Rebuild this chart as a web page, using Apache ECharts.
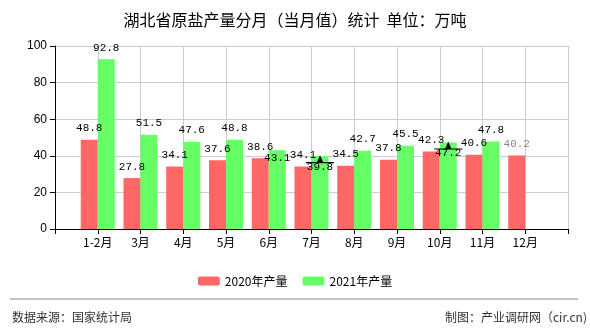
<!DOCTYPE html>
<html>
<head>
<meta charset="utf-8">
<script src="https://cdn.jsdelivr.net/npm/echarts@6/dist/echarts.min.js"></script>
<style>html,body{margin:0;padding:0;background:#fff;}#c{width:590px;height:330px;}</style>
</head>
<body>
<div id="c"></div>
<script>
var months = ['1-2月','3月','4月','5月','6月','7月','8月','9月','10月','11月','12月'];
var values2020 = [48.8, 27.8, 34.1, 37.6, 38.6, 34.1, 34.5, 37.8, 42.3, 40.6, 40.2];
var values2021 = [92.8, 51.5, 47.6, 48.8, 43.1, 39.8, 42.7, 45.5, 47.2, 47.8, null];
var yTicks = [0, 20, 40, 60, 80, 100];
var seriesNames = ['2020年产量', '2021年产量'];
var markerMonths = ['7月', '10月'];
var title = '湖北省原盐产量分月（当月值）统计  单位：万吨';
var sourceText = '数据来源：国家统计局';
var creditText = '制图：产业调研网（cir.cn)';

// padded category axis (empty slots at both ends, boundaryGap false)
var cats = [''].concat(months, ['']);
var labelFont = 'Liberation Mono';
function build(vals, idxInside, gray) {
  var out = [null];
  vals.forEach(function (v, i) {
    if (v === null) { out.push(null); return; }
    var item = { value: v };
    var m = months[i];
    if (idxInside && idxInside[m] !== undefined) {
      item.label = { position: 'insideTop', distance: idxInside[m] };
    }
    if (gray && gray.indexOf(m) >= 0) {
      item.label = Object.assign(item.label || {}, { color: '#888' });
    }
    out.push(item);
  });
  out.push(null);
  return out;
}
var d2020 = build(values2020, null, ['12月']);
var d2021 = build(values2021, { '6月': 2, '7月': 5, '10月': 5 }, null);

var markers = markerMonths.map(function (m) {
  var i = months.indexOf(m);
  return { coord: [m, values2021[i]] };
});

var chart = echarts.init(document.getElementById('c'), null, { renderer: 'canvas' });
var lbl = { show: true, position: 'top', distance: 6, color: '#000', fontSize: 11, fontFamily: labelFont };
chart.setOption({
  animation: false,
  backgroundColor: '#fff',
  title: {
    text: title, left: 'center', top: 7,
    textStyle: { fontSize: 16, fontWeight: 'normal', color: '#000', fontFamily: 'Noto Sans CJK SC' }
  },
  legend: {
    data: seriesNames, left: 'center', top: 270,
    itemWidth: 22, itemHeight: 9, itemGap: 15,
    textStyle: { fontSize: 12, color: '#000', fontFamily: 'Noto Sans CJK SC' }
  },
  grid: { left: 55, right: 22, top: 46, bottom: 101, containLabel: false },
  xAxis: {
    type: 'category', data: cats, boundaryGap: false,
    axisLine: { lineStyle: { color: '#000' } },
    axisTick: { show: true, length: 5, lineStyle: { color: '#000' }, interval: 0 },
    axisLabel: { interval: 0, color: '#000', fontSize: 12, fontFamily: 'Noto Sans CJK SC', margin: 7 },
    splitLine: { show: true, lineStyle: { color: '#ccc' } }
  },
  yAxis: {
    type: 'value', min: yTicks[0], max: yTicks[yTicks.length - 1], interval: yTicks[1] - yTicks[0],
    axisLine: { show: true, lineStyle: { color: '#000' } },
    axisTick: { show: true, length: 5, lineStyle: { color: '#000' } },
    axisLabel: { color: '#000', fontSize: 12, fontFamily: 'Liberation Sans', margin: 8 },
    splitLine: { show: true, lineStyle: { color: '#ccc' } }
  },
  series: [
    {
      name: seriesNames[0], type: 'bar', data: d2020, barWidth: 17, barGap: '0%',
      itemStyle: { color: '#ff6666' }, label: lbl
    },
    {
      name: seriesNames[1], type: 'bar', data: d2021, barWidth: 17, barGap: '0%',
      itemStyle: { color: '#66ff66' }, label: lbl,
      markPoint: {
        symbol: 'path://M0,10 L28,10 L28,11 L0,11 Z M11,10 L14,4 L17,10 Z',
        symbolSize: [28, 8], symbolKeepAspect: false, symbolOffset: [0, 3],
        itemStyle: { color: '#000' }, label: { show: false },
        data: markers
      }
    }
  ],
  graphic: [
    { type: 'line', shape: { x1: 10, y1: 299, x2: 578, y2: 299 }, style: { stroke: '#888', lineWidth: 1 } },
    { type: 'text', left: 12, top: 311, style: { text: sourceText, fontSize: 12, fill: '#333', fontFamily: 'Noto Sans CJK SC' } },
    { type: 'text', right: 3, top: 311, style: { text: creditText, fontSize: 12, fill: '#333', fontFamily: 'Noto Sans CJK SC' } }
  ]
});
</script>
</body>
</html>
